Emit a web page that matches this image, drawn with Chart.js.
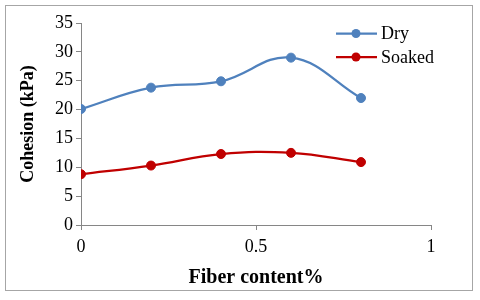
<!DOCTYPE html>
<html>
<head>
<meta charset="utf-8">
<script src="https://cdn.jsdelivr.net/npm/chart.js@4/dist/chart.umd.min.js"></script>
<style>
    body { margin: 0; background: #fff; }
    #frame {
        position: absolute;
        left: 5px;
        top: 5px;
        width: 468px;
        height: 286px;
        border: 1px solid #a6a6a6;
        box-sizing: border-box;
        background: #fff;
    }
    #chart { display: block; }
</style>
</head>
<body>
<div id="frame"><canvas id="chart" width="466" height="284"></canvas></div>
<script>
// Chart data
const fiberContent = [0, 0.2, 0.4, 0.6, 0.8];
const dryCohesion = [20.1, 23.8, 24.9, 29.0, 22.0];
const soakedCohesion = [8.8, 10.3, 12.3, 12.5, 10.9];
const seriesNames = ['Dry', 'Soaked'];
const xTicks = [0, 0.5, 1];
const yTicks = [0, 5, 10, 15, 20, 25, 30, 35];

const axisColor = '#868686';
const serif = '"Liberation Serif", "Times New Roman", serif';

function toPoints(values) {
    return fiberContent.map(function(x, i) {
        return { x: x, y: values[i] };
    });
}

function seriesStyle(color) {
    return {
        borderColor: color,
        backgroundColor: color,
        pointBackgroundColor: color,
        pointBorderColor: color,
        borderWidth: 2.25,
        pointRadius: 4.5,
        pointBorderWidth: 1,
        tension: 0.4,
        fill: false
    };
}

// Legend drawn in the upper right of the plot, line + marker like Excel
const cornerLegend = {
    id: 'cornerLegend',
    afterDraw: function(chart) {
        const ctx = chart.ctx;
        ctx.save();
        chart.data.datasets.forEach(function(ds, i) {
            const y = 27.5 + i * 23.5;
            ctx.strokeStyle = ds.borderColor;
            ctx.lineWidth = 2.25;
            ctx.beginPath();
            ctx.moveTo(330, y);
            ctx.lineTo(371, y);
            ctx.stroke();
            ctx.fillStyle = ds.borderColor;
            ctx.beginPath();
            ctx.arc(350, y, 4.5, 0, Math.PI * 2);
            ctx.fill();
            ctx.fillStyle = '#000';
            ctx.font = '18px ' + serif;
            ctx.textBaseline = 'middle';
            ctx.textAlign = 'left';
            ctx.fillText(ds.label, 375, y + 1);
        });
        ctx.restore();
    }
};

// plain number labels (1 rather than 1.0)
function plainLabel(value) {
    return String(value);
}

new Chart(document.getElementById('chart'), {
    type: 'line',
    data: {
        datasets: [
            Object.assign({ label: seriesNames[0], data: toPoints(dryCohesion) }, seriesStyle('#4f81bd')),
            Object.assign({ label: seriesNames[1], data: toPoints(soakedCohesion) }, seriesStyle('#c00000'))
        ]
    },
    options: {
        responsive: false,
        animation: false,
        layout: { padding: { top: 17, right: 41, left: 0, bottom: 0 } },
        plugins: {
            legend: { display: false },
            tooltip: { enabled: false }
        },
        scales: {
            x: {
                type: 'linear',
                min: xTicks[0],
                max: xTicks[xTicks.length - 1],
                afterFit: function(scale) { scale.height = 65; },
                afterBuildTicks: function(scale) {
                    scale.ticks = xTicks.map(function(v) { return { value: v }; });
                },
                grid: { drawOnChartArea: false, tickLength: 5, color: axisColor },
                border: { color: axisColor, width: 1 },
                ticks: {
                    color: '#000',
                    padding: 6,
                    maxRotation: 0,
                    callback: plainLabel,
                    font: { family: serif, size: 18 }
                },
                title: {
                    display: true,
                    text: 'Fiber content%',
                    color: '#000',
                    padding: { top: 0, bottom: 0 },
                    font: { family: serif, size: 20, weight: 'bold' }
                }
            },
            y: {
                min: yTicks[0],
                max: yTicks[yTicks.length - 1],
                afterFit: function(scale) { scale.width = 75; },
                afterBuildTicks: function(scale) {
                    scale.ticks = yTicks.map(function(v) { return { value: v }; });
                },
                grid: { drawOnChartArea: false, tickLength: 5, color: axisColor },
                border: { color: axisColor, width: 1 },
                ticks: {
                    color: '#000',
                    padding: 3,
                    callback: plainLabel,
                    font: { family: serif, size: 18 }
                },
                title: {
                    display: true,
                    text: 'Cohesion (kPa)',
                    color: '#000',
                    padding: { top: 12, bottom: 0 },
                    font: { family: serif, size: 18, weight: 'bold' }
                }
            }
        }
    },
    plugins: [cornerLegend]
});
</script>
</body>
</html>
